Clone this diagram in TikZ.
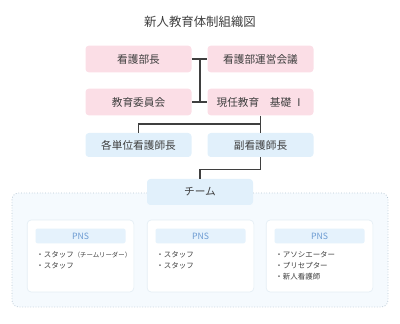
\documentclass[tikz,border=0pt]{standalone}
\usepackage{fontspec}
\setmainfont{Noto Sans CJK JP}
\usetikzlibrary{positioning}
\definecolor{pinkbox}{HTML}{FBDEE6}
\definecolor{bluebox}{HTML}{E1F0FB}
\definecolor{pnsbar}{HTML}{E5F2FC}
\definecolor{teamarea}{HTML}{F5FAFE}
\definecolor{dotline}{HTML}{B7C7D3}
\definecolor{inkgray}{HTML}{3F3F3F}
\definecolor{pnsblue}{HTML}{6C9BD2}
\definecolor{cardline}{HTML}{E4EEF5}

\begin{document}
\begin{tikzpicture}[x=0.75pt,y=-0.75pt,
  orgbox/.style={rounded corners=2.5pt,minimum width=79.5pt,minimum height=20pt,inner sep=0pt,font=\fontsize{8}{9}\selectfont,text=inkgray},
  pinkorg/.style={orgbox,fill=pinkbox},
  blueorg/.style={orgbox,fill=bluebox,minimum height=18pt},
  card/.style={draw=cardline,line width=0.5pt,fill=white,rounded corners=3pt,minimum width=80pt,minimum height=54pt,inner sep=0pt},
  pnsbox/.style={fill=pnsbar,rounded corners=1.5pt,minimum width=67.5pt,minimum height=11pt,inner sep=0pt,font=\fontsize{6.5}{7}\selectfont,text=pnsblue},
  member/.style={anchor=north west,align=left,inner sep=0pt,font=\fontsize{5.6}{8.2}\selectfont,text=inkgray},
  link/.style={draw=inkgray,line width=0.8pt}]
\useasboundingbox (0,0) rectangle (400,324);
\node[font=\fontsize{9.3}{11}\selectfont,text=inkgray] (title) at (200,22) {新人教育体制組織図};
% upper levels
\node[pinkorg] (bucho) at (138.5,59) {看護部長};
\node[pinkorg] (kaigi) at (260.5,59) {看護部運営会議};
\node[pinkorg] (iinkai) at (138.5,102) {教育委員会};
\node[pinkorg] (kiso) at (260.5,102) {現任教育　基礎 Ⅰ};
\node[blueorg] (tanni) at (138.5,145) {各単位看護師長};
\node[blueorg] (fuku) at (260.5,145) {副看護師長};
% team area
\draw[dotline,fill=teamarea,line width=0.6pt,dash pattern=on 0.6pt off 1.4pt,rounded corners=5pt] (12,193) rectangle (388,307);
\node[orgbox,fill=bluebox,minimum height=19.5pt] (team) at (200,192) {チーム};
\node[card] (card1) at (80.5,256) {};
\node[card] (card2) at (200.5,256) {};
\node[card] (card3) at (319.5,256) {};
\node[pnsbox,below=6.5pt of card1.north] (pns1) {PNS};
\node[pnsbox,below=6.5pt of card2.north] (pns2) {PNS};
\node[pnsbox,below=6.5pt of card3.north] (pns3) {PNS};
\node[member,below right=7pt and 7pt of card1.north west,yshift=-16.5pt] (list1) {・スタッフ{\fontsize{4.8}{5}\selectfont（チームリーダー）}\\・スタッフ};
\node[member,below right=7pt and 7pt of card2.north west,yshift=-16.5pt] (list2) {・スタッフ\\・スタッフ};
\node[member,below right=7pt and 7pt of card3.north west,yshift=-16.5pt] (list3) {・アソシエーター\\・プリセプター\\・新人看護師};
% connectors
\coordinate (mid1) at (200,59);
\coordinate (mid2) at (200,102);
\coordinate (fork) at (260.5,124);
\path[link] (bucho) -- (kaigi);
\path[link] (iinkai) -- (kiso);
\path[link] (mid1) -- (mid2);
\path[link] (kiso.south) -- (fork) -| (tanni.north);
\path[link] (fork) -- (fuku.north);
\path[link] (fuku.south) -- ++(0,12) -| (team.north);
\end{tikzpicture}
\end{document}
